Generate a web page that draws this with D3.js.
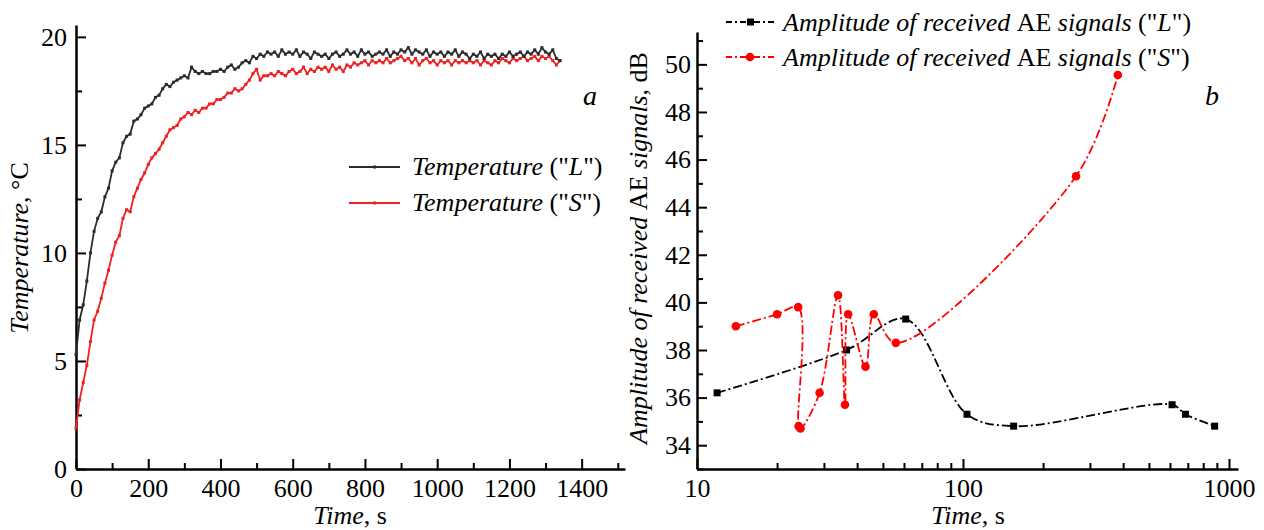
<!DOCTYPE html>
<html><head><meta charset="utf-8">
<script src="https://cdn.jsdelivr.net/npm/d3@7"></script>
<style>
html,body{margin:0;padding:0;background:#fff;}
svg text{font-family:"Liberation Serif","Times New Roman",serif;fill:#000;}
</style></head>
<body>
<svg id="c" width="1264" height="530" font-family="Liberation Serif, serif"></svg>
<script>
// ---------- Panel a: temperature vs time (step 10 s) ----------
const tempTimeStep = 10;
const tempL = [5.3,6.9,7.6,8.7,10.0,11.0,11.6,11.9,12.6,13.0,13.8,14.2,14.4,15.1,15.4,15.5,16.1,16.2,16.4,16.7,
16.8,16.9,17.2,17.3,17.6,17.8,17.7,17.9,18.0,18.1,18.2,18.1,18.6,18.4,18.3,18.4,18.3,18.3,18.4,18.4,
18.5,18.4,18.6,18.7,18.5,18.6,18.8,18.9,18.8,19.1,19.0,19.2,19.1,19.3,19.2,19.3,19.1,19.4,19.2,19.3,
19.2,19.4,19.1,19.3,19.2,19.0,19.3,19.2,19.1,19.2,19.0,19.2,19.3,19.1,19.2,19.4,19.2,19.3,19.1,19.4,
19.2,19.3,19.1,19.2,19.3,19.2,19.4,19.1,19.3,19.2,19.4,19.3,19.5,19.2,19.4,19.3,19.2,19.4,19.1,19.3,
19.2,19.3,19.1,19.3,19.2,19.4,19.1,19.3,19.2,19.0,19.2,19.1,19.3,19.0,19.2,19.1,19.2,19.0,19.2,19.1,
19.3,19.1,19.2,19.3,19.1,19.3,19.2,19.4,19.2,19.5,19.3,19.2,19.4,19.0,18.9];
const tempS = [1.9,3.2,4.0,4.8,5.9,6.9,7.3,7.9,8.6,9.2,9.9,10.5,10.8,11.6,12.0,11.9,12.6,13.0,13.4,13.7,
14.1,14.4,14.6,14.8,15.1,15.4,15.7,15.8,15.9,16.2,16.3,16.5,16.4,16.6,16.5,16.7,16.7,16.9,16.9,17.1,
17.1,17.2,17.4,17.4,17.6,17.5,17.6,17.8,18.0,18.3,18.5,18.0,18.2,18.2,18.3,18.2,18.4,18.3,18.2,18.4,
18.5,18.3,18.4,18.6,18.3,18.5,18.4,18.6,18.5,18.6,18.4,18.7,18.5,18.6,18.4,18.7,18.6,18.8,18.7,18.8,
18.9,18.7,18.9,18.8,18.9,18.8,19.0,18.8,18.9,19.0,19.1,18.9,19.0,18.8,19.0,18.7,18.9,19.0,18.8,18.9,
18.7,18.9,18.8,18.9,18.7,18.9,18.8,18.9,18.8,18.9,18.8,18.9,18.7,18.9,18.8,18.7,18.9,18.8,19.0,18.9,
18.8,19.0,18.9,19.0,19.1,18.9,19.0,19.1,18.9,19.1,19.0,19.1,18.9,18.7,18.9];
const tempXTicks = [0,200,400,600,800,1000,1200,1400];
const tempXMinor = [100,300,500,700,900,1100,1300,1500];
const tempYTicks = [0,5,10,15,20];
const tempYMinor = [2.5,7.5,12.5,17.5];

// ---------- Panel b: AE amplitude vs time (log) ----------
const aeTimeL = [11.9,36.5,60.9,103.5,155,611,686,883];
const aeAmpL  = [36.2,38.0,39.3,35.3,34.8,35.7,35.3,34.8];
const aeTimeS = [14.0,20.0,24.0,24.1,24.5,28.9,33.9,36.0,37.0,43.0,46.2,55.9,266,382];
const aeAmpS  = [39.0,39.5,39.8,34.8,34.7,36.2,40.3,35.7,39.5,37.3,39.5,38.3,45.3,49.55];
const aeXTicks = [10,100,1000];
const aeXMinor = [20,30,40,50,60,70,80,90,200,300,400,500,600,700,800,900];
const aeYTicks = [34,36,38,40,42,44,46,48,50];
const aeYMinor = [33,35,37,39,41,43,45,47,49,51];

const svg = d3.select("#c");
const FS = 26;
const FF = "Liberation Serif, Times New Roman, serif";

function styleAxis(g){
  g.attr("font-family",FF).attr("font-size",FS);
  g.select(".domain").attr("stroke","#000").attr("stroke-width",2.5);
  g.selectAll(".tick line").attr("stroke","#000").attr("stroke-width",2);
  g.selectAll(".tick text").attr("font-size",FS).attr("font-family",FF);
}
function minorStyle(g){
  g.select(".domain").remove();
  g.selectAll("line").attr("stroke","#000").attr("stroke-width",2);
}

// ===== Panel a =====
const xa = d3.scaleLinear().domain([0,1520]).range([76,625]);
const ya = d3.scaleLinear().domain([0,20.55]).range([469,25]);

svg.append("g").attr("transform","translate(0,469)")
  .call(d3.axisBottom(xa).tickValues(tempXMinor).tickSizeInner(-6).tickSizeOuter(0).tickFormat(""))
  .call(minorStyle);
svg.append("g").attr("transform","translate(76,0)")
  .call(d3.axisLeft(ya).tickValues(tempYMinor).tickSizeInner(-6).tickSizeOuter(0).tickFormat(""))
  .call(minorStyle);
const gxa = svg.append("g").attr("transform","translate(0,469)")
  .call(d3.axisBottom(xa).tickValues(tempXTicks).tickSizeInner(-10).tickSizeOuter(0).tickPadding(10).tickFormat(d3.format("d")));
styleAxis(gxa);
const gya = svg.append("g").attr("transform","translate(76,0)")
  .call(d3.axisLeft(ya).tickValues(tempYTicks).tickSizeInner(-10).tickSizeOuter(0).tickPadding(9));
styleAxis(gya);

function drawTemp(vals,color){
  const pts = vals.map((v,i)=>[i*tempTimeStep,v]);
  svg.append("path").datum(pts)
    .attr("fill","none").attr("stroke",color).attr("stroke-width",1.8)
    .attr("d",d3.line().x(d=>xa(d[0])).y(d=>ya(d[1])));
  svg.append("g").selectAll("rect").data(pts).join("rect")
    .attr("x",d=>xa(d[0])-1.5).attr("y",d=>ya(d[1])-1.5)
    .attr("width",3).attr("height",3).attr("fill",color);
}
drawTemp(tempS,"#f02020");
drawTemp(tempL,"#2b2b2b");

// axis titles a
const tA = svg.append("text").attr("x",350).attr("y",524).attr("text-anchor","middle").attr("font-size",FS);
tA.append("tspan").attr("font-style","italic").text("Time");
tA.append("tspan").text(", s");
const tyA = svg.append("text").attr("transform","translate(28,248) rotate(-90)").attr("text-anchor","middle").attr("font-size",FS);
tyA.append("tspan").attr("font-style","italic").text("Temperature");
tyA.append("tspan").text(", °C");
svg.append("text").attr("x",590).attr("y",105).attr("text-anchor","middle").attr("font-size",FS+2).attr("font-style","italic").text("a");

// legend a
const legA = [{c:"#2b2b2b",s:"L",y:167},{c:"#f02020",s:"S",y:203}];
legA.forEach(l=>{
  svg.append("line").attr("x1",349).attr("x2",400).attr("y1",l.y).attr("y2",l.y).attr("stroke",l.c).attr("stroke-width",1.8);
  svg.append("rect").attr("x",373).attr("y",l.y-1.5).attr("width",3).attr("height",3).attr("fill",l.c);
  const t = svg.append("text").attr("x",412).attr("y",l.y+8).attr("font-size",FS);
  t.append("tspan").attr("font-style","italic").text("Temperature");
  t.append("tspan").text(" (\"");
  t.append("tspan").attr("font-style","italic").text(l.s);
  t.append("tspan").text("\")");
});

// ===== Panel b =====
const xb = d3.scaleLog().domain([10,1081]).range([697,1238]);
const yb = d3.scaleLinear().domain([33,51.36]).range([469,32]);

svg.append("g").attr("transform","translate(0,469)")
  .call(d3.axisBottom(xb).tickValues(aeXMinor).tickSizeInner(-6).tickSizeOuter(0).tickFormat(""))
  .call(minorStyle);
svg.append("g").attr("transform","translate(697,0)")
  .call(d3.axisLeft(yb).tickValues(aeYMinor).tickSizeInner(-6).tickSizeOuter(0).tickFormat(""))
  .call(minorStyle);
const gxb = svg.append("g").attr("transform","translate(0,469)")
  .call(d3.axisBottom(xb).tickValues(aeXTicks).tickSizeInner(-10).tickSizeOuter(0).tickPadding(10).tickFormat(d3.format("d")));
styleAxis(gxb);
const gyb = svg.append("g").attr("transform","translate(697,0)")
  .call(d3.axisLeft(yb).tickValues(aeYTicks).tickSizeInner(-10).tickSizeOuter(0).tickPadding(6));
styleAxis(gyb);

const dashDot = "9,3,2,3";
function drawAE(ts,vs,color,marker){
  const pts = ts.map((t,i)=>[t,vs[i]]);
  svg.append("path").datum(pts)
    .attr("fill","none").attr("stroke",color).attr("stroke-width",1.8).attr("stroke-dasharray",dashDot)
    .attr("d",d3.line().curve(d3.curveCatmullRom.alpha(0.5)).x(d=>xb(d[0])).y(d=>yb(d[1])));
  const g = svg.append("g");
  if(marker==="square"){
    g.selectAll("rect").data(pts).join("rect")
      .attr("x",d=>xb(d[0])-3.5).attr("y",d=>yb(d[1])-3.5).attr("width",7).attr("height",7).attr("fill",color);
  } else {
    g.selectAll("circle").data(pts).join("circle")
      .attr("cx",d=>xb(d[0])).attr("cy",d=>yb(d[1])).attr("r",4.3).attr("fill",color);
  }
}
drawAE(aeTimeL,aeAmpL,"#000","square");
drawAE(aeTimeS,aeAmpS,"#ff0000","circle");

const tB = svg.append("text").attr("x",968).attr("y",524).attr("text-anchor","middle").attr("font-size",FS);
tB.append("tspan").attr("font-style","italic").text("Time");
tB.append("tspan").text(", s");
const tyB = svg.append("text").attr("transform","translate(647,248) rotate(-90)").attr("text-anchor","middle").attr("font-size",FS);
tyB.append("tspan").attr("font-style","italic").text("Amplitude of received ");
tyB.append("tspan").text("AE ");
tyB.append("tspan").attr("font-style","italic").text("signals");
tyB.append("tspan").text(", dB");
svg.append("text").attr("x",1212).attr("y",105).attr("text-anchor","middle").attr("font-size",FS+2).attr("font-style","italic").text("b");

const legB = [{c:"#000",s:"L",y:22,m:"square"},{c:"#ff0000",s:"S",y:57,m:"circle"}];
legB.forEach(l=>{
  svg.append("line").attr("x1",726).attr("x2",775).attr("y1",l.y).attr("y2",l.y).attr("stroke",l.c).attr("stroke-width",1.8).attr("stroke-dasharray","6,3,2,3");
  if(l.m==="square") svg.append("rect").attr("x",747).attr("y",l.y-3.5).attr("width",7).attr("height",7).attr("fill",l.c);
  else svg.append("circle").attr("cx",750).attr("cy",l.y).attr("r",4.3).attr("fill",l.c);
  const t = svg.append("text").attr("x",783).attr("y",l.y+9).attr("font-size",FS);
  t.append("tspan").attr("font-style","italic").text("Amplitude of received ");
  t.append("tspan").text("AE ");
  t.append("tspan").attr("font-style","italic").text("signals");
  t.append("tspan").text(" (\"");
  t.append("tspan").attr("font-style","italic").text(l.s);
  t.append("tspan").text("\")");
});
</script>
</body></html>
